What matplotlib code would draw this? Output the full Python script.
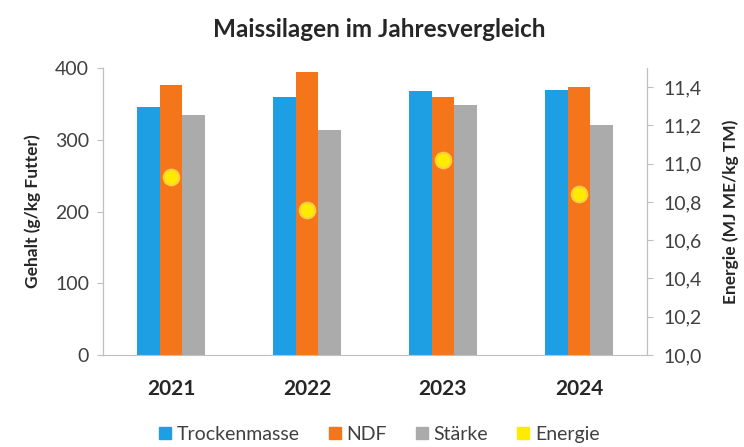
import matplotlib.pyplot as plt
from matplotlib.patches import Patch
import numpy as np

plt.rcParams['font.family'] = ['Lato', 'DejaVu Sans']

jahre = ['2021', '2022', '2023', '2024']
trockenmasse = [345, 359, 368, 370]
ndf = [377, 395, 360, 373]
staerke = [334, 313, 348, 321]
energie = [10.93, 10.76, 11.02, 10.84]

blau = '#1E9FE3'
orange = '#F5761A'
grau = '#ABABAB'
gelb = '#FFEA00'
text = '#404040'
achse = '#BFBFBF'

fig = plt.figure(figsize=(7.44, 4.47), dpi=100)
ax = fig.add_axes([0.1384, 0.2058, 0.7312, 0.642])
ax2 = ax.twinx()

x = np.arange(len(jahre))
w = 0.165
ax.bar(x - w, trockenmasse, w, color=blau)
ax.bar(x, ndf, w, color=orange)
ax.bar(x + w, staerke, w, color=grau)
ax2.scatter(x, energie, s=125, color=gelb, edgecolor='#FFCF40', linewidth=1.5, zorder=5)

ax.set_xlim(-0.5, 3.5)
ax.set_ylim(0, 400)
ax.set_yticks([0, 100, 200, 300, 400])
ax2.set_ylim(10.0, 11.5)
ax2.set_yticks([10.0, 10.2, 10.4, 10.6, 10.8, 11.0, 11.2, 11.4])
ax2.set_yticklabels(['10,0', '10,2', '10,4', '10,6', '10,8', '11,0', '11,2', '11,4'])

ax.set_xticks(x)
ax.set_xticklabels(jahre, fontsize=15, fontweight='bold', color='#262626')
ax.tick_params(axis='x', length=0, pad=17)
ax.tick_params(axis='y', labelsize=14, colors=text, length=4, color=achse, pad=6)
ax2.tick_params(axis='y', labelsize=14, colors=text, length=4, color=achse, pad=8)

for a in (ax, ax2):
    a.spines['top'].set_visible(False)
    for s in ('left', 'right', 'bottom'):
        a.spines[s].set_color(achse)
ax2.spines['bottom'].set_visible(False)

ax.set_ylabel('Gehalt (g/kg Futter)', fontsize=12.5, fontweight='bold', color='#262626', labelpad=10)
ax2.set_ylabel('Energie (MJ ME/kg TM)', fontsize=12.5, fontweight='bold', color='#262626', labelpad=15)

fig.suptitle('Maissilagen im Jahresvergleich', x=0.51, y=0.96, fontsize=17.5,
             fontweight='bold', color='#262626')

handles = [Patch(color=blau), Patch(color=orange), Patch(color=grau), Patch(color=gelb)]
labels = ['Trockenmasse', 'NDF', 'Stärke', 'Energie']
fig.legend(handles, labels, loc='lower center', bbox_to_anchor=(0.51, -0.03), ncol=4,
           frameon=False, fontsize=14, handlelength=0.6, handleheight=0.6,
           handletextpad=0.3, columnspacing=1.5, labelcolor=text)

fig.savefig('out.png', dpi=100)
